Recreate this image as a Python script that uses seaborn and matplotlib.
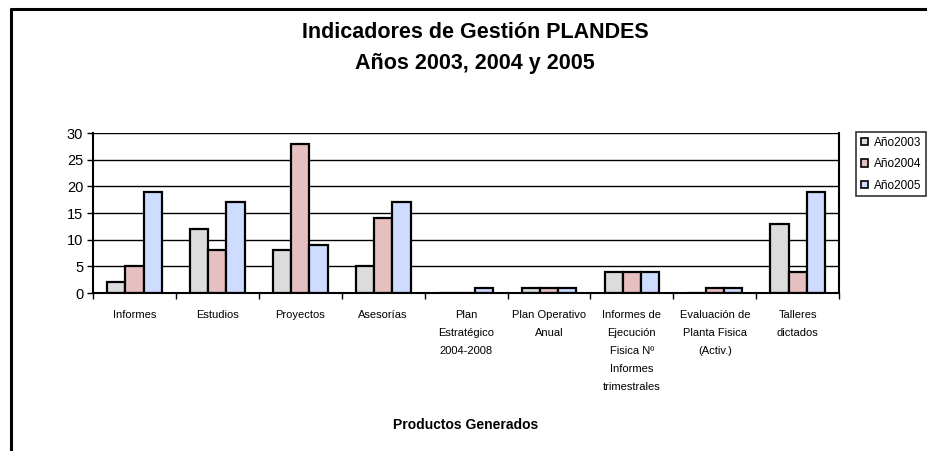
import matplotlib

matplotlib.use("Agg")

import matplotlib.pyplot as plt
from matplotlib.lines import Line2D
from matplotlib.patches import Patch
import pandas as pd
import seaborn as sns

categories = ["Informes", "Estudios", "Proyectos", "Asesorías", "Plan Estratégico 2004-2008",
              "Plan Operativo Anual", "Informes de Ejecución Fisica Nº Informes trimestrales",
              "Evaluación de Planta Fisica (Activ.)", "Talleres dictados"]
tick_labels = ["Informes", "Estudios", "Proyectos", "Asesorías", "Plan\nEstratégico\n2004-2008",
               "Plan Operativo\nAnual", "Informes de\nEjecución\nFisica Nº\nInformes\ntrimestrales",
               "Evaluación de\nPlanta Fisica\n(Activ.)", "Talleres\ndictados"]
series = ["Año2003", "Año2004", "Año2005"]
v2003 = [2, 12, 8, 5, 0, 1, 4, 0, 13]
v2004 = [5, 8, 28, 14, 0, 1, 4, 1, 4]
v2005 = [19, 17, 9, 17, 1, 1, 4, 1, 19]
colors = ["#dcdcdc", "#e6c0c0", "#cddcff"]

rows = []
for name, vals in zip(series, [v2003, v2004, v2005]):
    for cat, v in zip(categories, vals):
        rows.append({"cat": cat, "serie": name, "valor": v})
df = pd.DataFrame(rows)

sns.set_style("white")
plt.rcParams["font.family"] = ["Liberation Sans", "DejaVu Sans"]
plt.rcParams["text.color"] = "black"
plt.rcParams["xtick.color"] = "black"
plt.rcParams["ytick.color"] = "black"

fig = plt.figure(figsize=(9.27, 4.51), dpi=100)
ax = fig.add_axes([0.1003, 0.350, 0.805, 0.355])
sns.barplot(data=df, x="cat", y="valor", hue="serie", order=categories, hue_order=series,
            palette=colors, edgecolor="black", linewidth=1.6, width=0.66, ax=ax,
            legend=False, saturation=1)

ax.set_ylim(0, 30)
ax.set_xlim(-0.5, len(categories) - 0.5)
ax.set_yticks(range(0, 31, 5))
ax.yaxis.grid(True, color="black", linewidth=1.0)
ax.set_axisbelow(True)
for side in ["left", "bottom", "right"]:
    ax.spines[side].set_color("black")
    ax.spines[side].set_linewidth(1.5)
ax.spines["top"].set_visible(False)
ax.tick_params(axis="y", left=True, length=4, width=1, labelsize=10.5, pad=3)
ax.set_xticks(range(len(categories)))
ax.set_xticklabels(tick_labels, fontsize=8, linespacing=2.0, va="top")
ax.tick_params(axis="x", length=0, pad=12)
ax.set_xticks([i - 0.5 for i in range(len(categories) + 1)], minor=True)
ax.tick_params(axis="x", which="minor", bottom=True, length=4, width=1)
ax.set_ylabel("")
ax.set_xlabel("")

fig.text(466 / 927, 0.058, "Productos Generados", ha="center", va="center",
         fontsize=10, fontweight="bold")
fig.text(0.5125, 0.893, "Indicadores de Gestión PLANDES\nAños 2003, 2004 y 2005",
         ha="center", va="center", fontsize=15.5, fontweight="bold", linespacing=1.6)

handles = [Patch(facecolor=c, edgecolor="black", linewidth=1.2) for c in colors]
leg = fig.legend(handles, series, loc="upper right", bbox_to_anchor=(0.999, 0.707),
                 fontsize=8.5, frameon=True, fancybox=False, edgecolor="black",
                 handlelength=0.6, handleheight=0.6, handletextpad=0.5,
                 labelspacing=0.8, borderpad=0.4, borderaxespad=0)
leg.get_frame().set_linewidth(1.2)

fig.add_artist(Line2D([11 / 927, 11 / 927], [0, 0.980], color="black", linewidth=2.2,
                      transform=fig.transFigure))
fig.add_artist(Line2D([11 / 927, 1], [0.980, 0.980], color="black", linewidth=2.2,
                      transform=fig.transFigure))

fig.savefig("out.png", dpi=100)
